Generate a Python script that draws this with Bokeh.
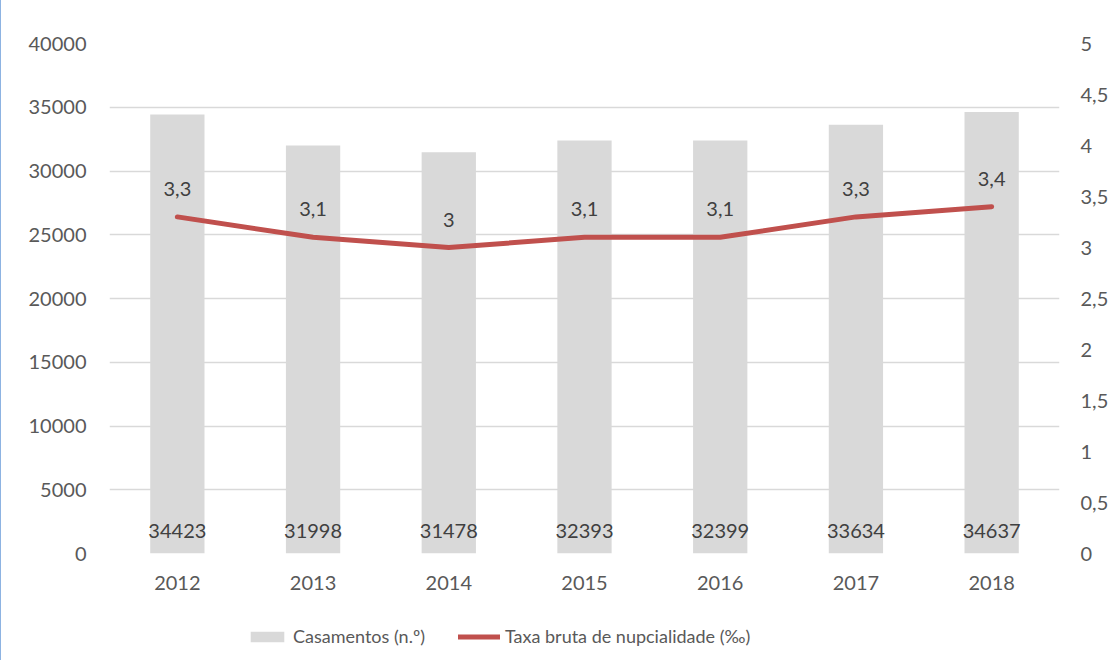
from bokeh.plotting import figure
from bokeh.layouts import column
from bokeh.models import (ColumnDataSource, FactorRange, Range1d, LinearAxis,
                          FixedTicker, Legend, LegendItem)
from bokeh.core.properties import value
from bokeh.embed import file_html
from bokeh.resources import INLINE

years = ["2012", "2013", "2014", "2015", "2016", "2017", "2018"]
casamentos = [34423, 31998, 31478, 32393, 32399, 33634, 34637]
taxa = [3.3, 3.1, 3.0, 3.1, 3.1, 3.3, 3.4]
legend_labels = ["Casamentos (n.º)", "Taxa bruta de nupcialidade (‰)"]

FONT = "Lato"
TICK_COLOR = "#595959"
LABEL_COLOR = "#404040"
BAR_COLOR = "#d9d9d9"
LINE_COLOR = "#c0504d"

def fmt(v):
    s = ("%g" % v)
    return s.replace(".", ",")

src = ColumnDataSource(dict(
    year=years,
    cas=casamentos,
    cas_lbl=[str(v) for v in casamentos],
    taxa=taxa,
    taxa_lbl=[fmt(v) for v in taxa],
    zero=[0] * len(years),
))

p = figure(width=1110, height=600, x_range=FactorRange(*years, range_padding=0),
           y_range=Range1d(0, 40000), output_backend="svg", toolbar_location=None,
           min_border_left=108, min_border_right=48, min_border_top=43,
           min_border_bottom=47)
p.outline_line_color = None
p.extra_y_ranges = {"rate": Range1d(0, 5)}

p.vbar(x="year", top="cas", width=0.4, source=src, fill_color=BAR_COLOR,
       line_color=None)
p.line(x="year", y="taxa", source=src, y_range_name="rate",
       line_color=LINE_COLOR, line_width=5, line_cap="round", line_join="round")

p.text(x="year", y="zero", text="cas_lbl", source=src, text_align="center",
       text_baseline="middle", y_offset=-23, text_font=value(FONT),
       text_font_size="20px", text_color=LABEL_COLOR)
p.text(x="year", y="taxa", text="taxa_lbl", source=src, y_range_name="rate",
       text_align="center", text_baseline="middle", y_offset=-28,
       text_font=value(FONT), text_font_size="20px", text_color=LABEL_COLOR)

p.yaxis.ticker = FixedTicker(ticks=list(range(0, 40001, 5000)))
right = LinearAxis(y_range_name="rate")
right.ticker = FixedTicker(ticks=[i * 0.5 for i in range(11)])
right.major_label_overrides = {i * 0.5: fmt(i * 0.5) for i in range(11)}
p.add_layout(right, "right")

for ax in [p.yaxis[0], right, p.xaxis[0]]:
    ax.axis_line_color = None
    ax.major_tick_line_color = None
    ax.minor_tick_line_color = None
    ax.major_tick_out = 0
    ax.major_tick_in = 0
    ax.major_label_text_font = FONT
    ax.major_label_text_font_size = "20px"
    ax.major_label_text_color = TICK_COLOR
p.yaxis[0].major_label_standoff = 23
right.major_label_standoff = 21
p.xaxis[0].major_label_standoff = 22

p.xgrid.grid_line_color = None
p.ygrid.grid_line_color = BAR_COLOR
p.ygrid.grid_line_width = 1.5

# legend strip below the chart (its frame is aligned with the chart frame)
lf = figure(width=1110, height=60, x_range=Range1d(0, 1), y_range=Range1d(0, 1),
            output_backend="svg", toolbar_location=None, min_border=0,
            x_axis_type=None, y_axis_type=None)
lf.outline_line_color = None
lf.grid.visible = False
nan = float("nan")
dummy = ColumnDataSource(dict(x=[nan], y=[nan]))
r_bar = lf.vbar(x="x", top="y", width=0.4, source=dummy, fill_color=BAR_COLOR,
                line_color=None)
r_line = lf.line(x="x", y="y", source=dummy, line_color=LINE_COLOR, line_width=5,
                 line_cap="round")
legend = Legend(items=[LegendItem(label=legend_labels[0], renderers=[r_bar]),
                       LegendItem(label=legend_labels[1], renderers=[r_line])],
                orientation="horizontal", location=(137, 13),
                glyph_width=42, glyph_height=13, label_standoff=5, spacing=33,
                label_text_font=FONT, label_text_font_size="18px",
                label_text_color=TICK_COLOR, border_line_color=None,
                background_fill_alpha=0, margin=0, padding=0)
lf.add_layout(legend, "center")

layout = column(p, lf, spacing=0, styles={"border-left": "1px solid #8db3e2"})
open("out.html", "w").write(file_html(layout, INLINE))
